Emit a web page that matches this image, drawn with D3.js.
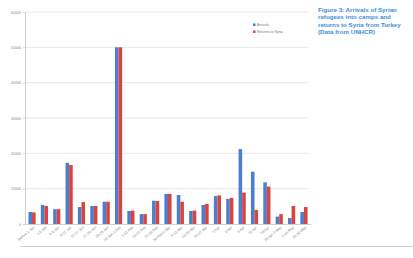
<!DOCTYPE html>
<html>
<head>
<meta charset="utf-8">
<script src="https://cdn.jsdelivr.net/npm/d3@7.9.0/dist/d3.min.js"></script>
<style>
  html, body { margin: 0; padding: 0; background: #fff; }
  svg { display: block; font-family: "Liberation Sans", Arial, sans-serif; }
</style>
</head>
<body>
<svg id="chart" width="413" height="258"></svg>
<script>
const periods = [
  'Before 1 Jan', '1-5 Jan', '5-9 Jan', '9-12 Jan', '12-17 Jan', '17-20 Jan',
  '20-23 Jan', '23 Jan-1 Feb', '1-13 Feb', '13-21 Feb', '21-28 Feb', '28 Feb-6 Mar',
  '6-13 Mar', '13-20 Mar', '20-27 Mar', '1 Apr', '3 Apr', '6 Apr', '11 Apr',
  '18 Apr', '25 Apr-2 May', '2-16 May', '16-30 May'
];
const arrivals = [
  3400, 5400, 4200, 17300, 4800, 5100, 6300, 50000, 3700, 2800, 6600, 8500,
  8200, 3700, 5400, 7900, 7100, 21200, 14800, 11800, 2100, 1700, 3400
];
const returns = [
  3300, 5100, 4200, 16700, 6200, 5100, 6300, 50000, 3800, 2800, 6500, 8500,
  6300, 3800, 5700, 8100, 7400, 8900, 4000, 10600, 2800, 5100, 4800
];
const seriesNames = ['Arrivals', 'Returns to Syria'];
const seriesColors = ['#4a7fd0', '#d9443f'];
const yTicks = [0, 10000, 20000, 30000, 40000, 50000, 60000];
const titleLines = [
  'Figure 3: Arrivals of Syrian',
  'refugees into camps and',
  'returns to Syria from Turkey',
  '(Data from UNHCR)'
];

const svg = d3.select('#chart');
const plotLeft = 25, plotRight = 311, plotTop = 12, plotBottom = 224;

let x = d3.scaleBand().domain(periods).range([plotLeft, plotRight])
  .paddingInner(0.42).paddingOuter(0.28);
let x1 = d3.scaleBand().domain(seriesNames).range([0, x.bandwidth()]);
let y = d3.scaleLinear().domain([0, 60000]).range([plotBottom, plotTop]);

// gridlines
svg.append('g')
  .selectAll('line')
  .data(yTicks.slice(1))
  .join('line')
  .attr('x1', plotLeft).attr('x2', 308)
  .attr('y1', d => y(d)).attr('y2', d => y(d))
  .attr('stroke', '#e2e2e2').attr('stroke-width', 0.8);

// y axis
let yAxis = svg.append('g')
  .attr('transform', `translate(${plotLeft},0)`)
  .call(d3.axisLeft(y).tickValues(yTicks).tickSize(2).tickFormat(d3.format('d')));
yAxis.select('.domain').attr('stroke', '#cfcfcf');
yAxis.selectAll('.tick line').attr('stroke', '#cfcfcf');
yAxis.selectAll('text').attr('fill', '#888').attr('font-size', 3.6).attr('x', -4);

// x axis
let xAxis = svg.append('g')
  .attr('transform', `translate(0,${plotBottom})`)
  .call(d3.axisBottom(x).tickSize(0));
xAxis.select('.domain').attr('stroke', '#cfcfcf');
xAxis.selectAll('text')
  .attr('fill', '#888').attr('font-size', 3.6)
  .attr('text-anchor', 'end')
  .attr('transform', 'translate(2,3) rotate(-40)')
  .attr('dy', '0.3em').attr('y', 0);

// bars
let groups = svg.append('g')
  .selectAll('g')
  .data(periods.map((p, i) => ({ period: p, values: [arrivals[i], returns[i]] })))
  .join('g')
  .attr('transform', d => `translate(${x(d.period)},0)`);

groups.selectAll('rect')
  .data(d => d.values.map((v, i) => ({ name: seriesNames[i], value: v, color: seriesColors[i] })))
  .join('rect')
  .attr('x', d => x1(d.name))
  .attr('width', x1.bandwidth())
  .attr('y', d => y(d.value))
  .attr('height', d => plotBottom - y(d.value))
  .attr('fill', d => d.color);

// legend
let legend = svg.append('g').attr('transform', 'translate(253,25)');
seriesNames.forEach((name, i) => {
  legend.append('rect')
    .attr('x', 0).attr('y', i * 7 - 1.5)
    .attr('width', 2.5).attr('height', 2.5)
    .attr('fill', seriesColors[i]);
  legend.append('text')
    .attr('x', 4).attr('y', i * 7 + 1.2)
    .attr('font-size', 3.6).attr('fill', '#777')
    .text(name);
});

// title
svg.append('text')
  .attr('x', 318).attr('y', 12)
  .attr('font-size', 6.2).attr('font-weight', 'bold').attr('fill', '#3d8fd6')
  .selectAll('tspan')
  .data(titleLines)
  .join('tspan')
  .attr('x', 318)
  .attr('dy', (d, i) => i === 0 ? 0 : 7.3)
  .text(d => d);

// page rule at bottom
svg.append('line')
  .attr('x1', 20).attr('x2', 413)
  .attr('y1', 246.5).attr('y2', 246.5)
  .attr('stroke', '#c6d0da').attr('stroke-width', 1);
</script>
</body>
</html>
